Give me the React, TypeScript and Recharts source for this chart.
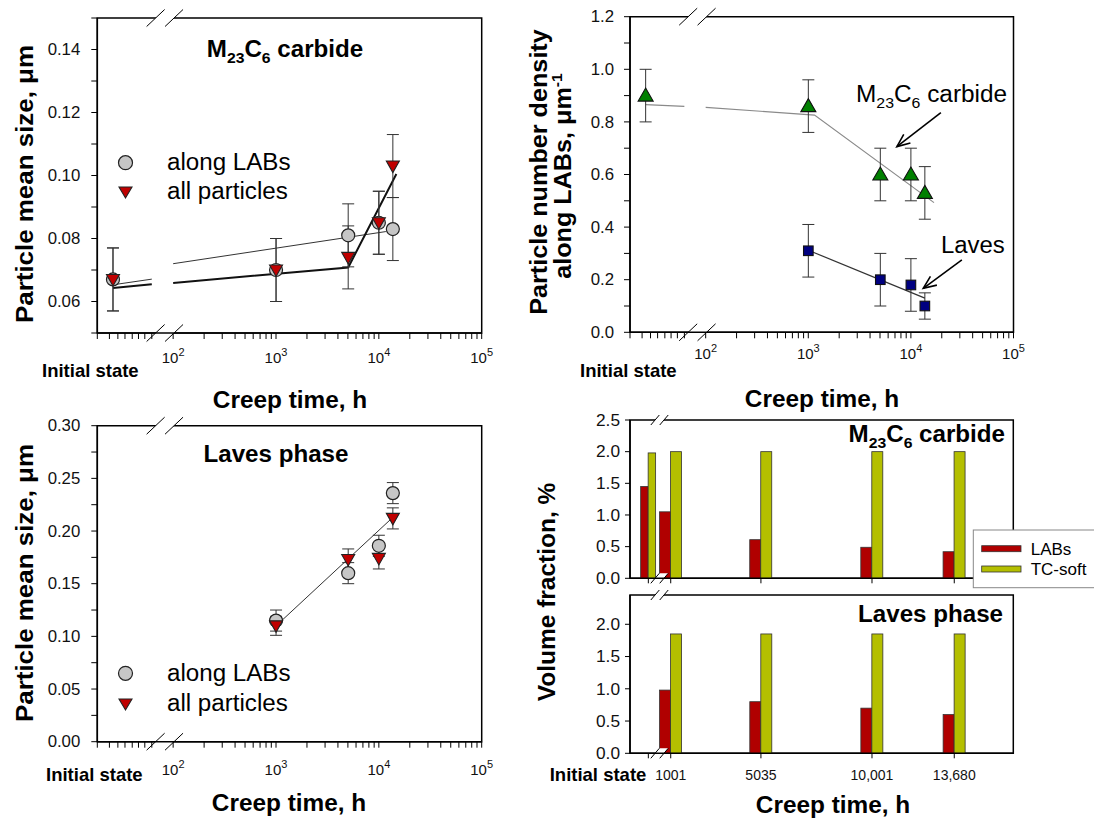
import React from "react";
import {
  ComposedChart, BarChart, Bar, Scatter, Line, XAxis, YAxis, ErrorBar,
  ReferenceArea, ReferenceLine,
} from "recharts";

const FONT = '"Liberation Sans", Arial, Helvetica, sans-serif';

// ---------- data ----------
// "Initial state" sits left of the axis break on the log time axis
const INIT_T = 26;
const BREAK_T = 83;

const sizeTimes = [INIT_T, 1001, 5035, 10001, 13680];
const m23SizeLabs = [0.067, 0.070, 0.081, 0.085, 0.083];
const m23SizeAll = [0.067, 0.070, 0.074, 0.085, 0.103];
const m23SizeErr = [0.010, 0.010, 0.010, 0.010, 0.010];

// fitted lines (null = gap at the axis break)
const m23FitLabsT = [26, 62, BREAK_T, 100, 11700];
const m23FitLabsV = [0.0653, 0.0671, null, 0.0720, 0.0822];
const m23FitAllT = [26, 62, BREAK_T, 100, 5035, 14800];
const m23FitAllV = [0.0643, 0.0655, null, 0.0659, 0.0708, 0.1005];

const lavesTimes = [1001, 5035, 10001, 13680];
const lavesSizeLabs = [0.115, 0.160, 0.186, 0.236];
const lavesSizeAll = [0.110, 0.173, 0.174, 0.212];
const lavesSizeLabsErr = [0.010, 0.010, 0.010, 0.010];
const lavesSizeAllErr = [0.009, 0.010, 0.010, 0.010];
const lavesFitT = [1001, 13680];
const lavesFitV = [0.110, 0.213];

const m23Density = [0.90, 0.86, 0.60, 0.60, 0.53];
const m23DensityErr = [0.10, 0.10, 0.10, 0.10, 0.10];
const lavesDensity = [0.31, 0.20, 0.18, 0.10];
const lavesDensityErr = [0.10, 0.10, 0.10, 0.05];
const m23DensFitT = [26, 62, BREAK_T, 100, 1150, 16800];
const m23DensFitV = [0.866, 0.859, null, 0.855, 0.826, 0.493];
const lavesDensFitT = [1001, 13680];
const lavesDensFitV = [0.312, 0.130];

// annotation arrows (data coords: tail -> head)
const m23Arrow = [{ x: 19600, y: 0.835 }, { x: 7300, y: 0.706 }];
const lavesArrow = [{ x: 31400, y: 0.275 }, { x: 13200, y: 0.167 }];

// volume fraction bars
const vfTimes = [0, 1001, 5035, 10001, 13680];
const vfTickLabels = ["Initial state", "1001", "5035", "10,001", "13,680"];
const m23VfLabs = [1.45, 1.05, 0.61, 0.49, 0.42];
const m23VfTc = [1.98, 2.0, 2.0, 2.0, 2.0];
const lavesVfTimes = [1001, 5035, 10001, 13680];
const lavesVfLabs = [0.98, 0.80, 0.70, 0.60];
const lavesVfTc = [1.85, 1.85, 1.85, 1.85];

// ---------- helpers ----------
const pts = (ts: number[], vs: (number | null)[], es?: number[]) =>
  ts.map((x, i) => ({ x, y: vs[i], err: es ? es[i] : 0 }));

const LOG_MIN = 18.3;
const LEFT_TICKS = [LOG_MIN, 24, 29, 34, 40, 46, 53, 62];
const LOG_TICKS: number[] = [...LEFT_TICKS];
for (let d = 100; d <= 10000; d *= 10) for (let m = 1; m <= 9; m++) LOG_TICKS.push(d * m);
LOG_TICKS.push(100000);
const DECADES = [100, 1000, 10000, 100000];

const RED = "#b00000";
const LIME = "#b4bf00";

const makeLogTick = (dy: number) => (p: any) => {
  const v = p.payload.value;
  if (!DECADES.includes(v)) return <g />;
  return (
    <text x={p.x} y={p.y + dy} textAnchor="middle" fontSize={15} fontFamily={FONT} fill="#111">
      10<tspan dy={-7} fontSize={11}>{Math.round(Math.log10(v))}</tspan>
    </text>
  );
};

const makeYTick = (isLabeled: (v: number) => boolean, digits: number, size = 16, sx = 1.05) => (p: any) => {
  const v = p.payload.value;
  if (!isLabeled(v)) return <g />;
  return (
    <text transform={`translate(${p.x},${p.y}) scale(${sx},1)`} textAnchor="end" dy="0.36em"
      fontSize={size} fontFamily={FONT} fill="#111">{v.toFixed(digits)}</text>
  );
};

const makeBreak = (w: number, h: number, gap: number) => (p: any) => {
  const x = p.x1;
  const yA = Math.min(p.y1, p.y2);
  const yB = Math.max(p.y1, p.y2);
  const mark = (y: number, k: string) => {
    const l = x - gap / 2, r = x + gap / 2;
    return (
      <g key={k}>
        <polygon points={`${l - w / 2},${y + h / 2} ${l + w / 2},${y - h / 2} ${r + w / 2},${y - h / 2} ${r - w / 2},${y + h / 2}`} fill="#fff" />
        <line x1={l - w / 2} y1={y + h / 2} x2={l + w / 2} y2={y - h / 2} stroke="#000" strokeWidth={1} />
        <line x1={r - w / 2} y1={y + h / 2} x2={r + w / 2} y2={y - h / 2} stroke="#000" strokeWidth={1} />
      </g>
    );
  };
  return <g>{mark(yA, "a")}{mark(yB, "b")}</g>;
};
const bigBreak = makeBreak(18, 17, 18.4);
const smallBreak = makeBreak(8.5, 10, 8.9);

const arrowShape = (p: any) => {
  const { x1, y1, x2, y2 } = p;
  const a = Math.atan2(y2 - y1, x2 - x1);
  const L = 14, s = 0.4;
  const h1 = `${x2 - L * Math.cos(a - s)},${y2 - L * Math.sin(a - s)}`;
  const h2 = `${x2 - L * Math.cos(a + s)},${y2 - L * Math.sin(a + s)}`;
  return (
    <g>
      <line x1={x1} y1={y1} x2={x2} y2={y2} stroke="#000" strokeWidth={1.6} />
      <polyline points={`${h1} ${x2},${y2} ${h2}`} fill="none" stroke="#000" strokeWidth={1.6} />
    </g>
  );
};

const CircleDot = (p: any) => <circle cx={p.cx} cy={p.cy} r={6.5} fill="#c6c6c6" stroke="#222" strokeWidth={1.2} />;
const TriDown = (p: any) => (
  <polygon points={`${p.cx - 6.5},${p.cy - 5} ${p.cx + 6.5},${p.cy - 5} ${p.cx},${p.cy + 6.5}`} fill="#c00000" stroke="#222" strokeWidth={1.1} />
);
const TriUp = (p: any) => (
  <polygon points={`${p.cx - 7.5},${p.cy + 5.5} ${p.cx + 7.5},${p.cy + 5.5} ${p.cx},${p.cy - 7.5}`} fill="#008000" stroke="#111" strokeWidth={1.1} />
);
const Square = (p: any) => <rect x={p.cx - 4.8} y={p.cy - 4.8} width={9.6} height={9.6} fill="#000080" stroke="#111" strokeWidth={1.1} />;

const barShape = (fill: string, side: "left" | "right") => (p: any) => {
  let { x, width } = p;
  const { y, height, payload } = p;
  if (!height || height <= 0 || isNaN(height)) return <g />;
  if (payload && payload.t === 0) {
    const w = width * 0.68;
    if (side === "left") x = x + width - w;
    width = w;
  }
  return <rect x={x} y={y} width={width} height={height} fill={fill} stroke="#333" strokeWidth={0.8} />;
};

function T({ x, y, size, bold = false, anchor = "start", sx = 1, rot = 0, children }: any) {
  return (
    <text transform={`translate(${x},${y}) rotate(${rot}) scale(${sx},1)`} fontSize={size}
      fontWeight={bold ? 700 : 400} textAnchor={anchor} fontFamily={FONT} fill="#000">
      {children}
    </text>
  );
}

const M23 = ({ big, small }: { big: number; small: number }) => (
  <>
    M<tspan fontSize={small} dy={6}>23</tspan>
    <tspan fontSize={big} dy={-6}>C</tspan>
    <tspan fontSize={small} dy={6}>6</tspan>
    <tspan fontSize={big} dy={-6}>{"\u00a0carbide"}</tspan>
  </>
);

const logX = (dy: number) => (
  <XAxis type="number" dataKey="x" scale="log" domain={[LOG_MIN, 100000]} allowDataOverflow
    ticks={LOG_TICKS} interval={0} tick={makeLogTick(dy)} tickSize={6} tickMargin={2} height={50}
    stroke="#000" axisLine={{ stroke: "#000", strokeWidth: 1.5 }} tickLine={{ stroke: "#000" }} />
);

const fitLine = (data: any[], stroke: string, w: number, key: string) => (
  <Line key={key} data={data} dataKey="y" type="linear" stroke={stroke} strokeWidth={w} dot={false}
    activeDot={false} connectNulls={false} isAnimationActive={false} legendType="none" />
);

const errBar = <ErrorBar dataKey="err" direction="y" width={6} stroke="#333" strokeWidth={1} />;

export default function App() {
  const sizeTicks1 = [0.05, 0.06, 0.07, 0.08, 0.09, 0.10, 0.11, 0.12, 0.13, 0.14, 0.15];
  const sizeTicks3 = [0, 0.025, 0.05, 0.075, 0.1, 0.125, 0.15, 0.175, 0.2, 0.225, 0.25, 0.275, 0.3];
  const densTicks = [0, 0.1, 0.2, 0.3, 0.4, 0.5, 0.6, 0.7, 0.8, 0.9, 1.0, 1.1, 1.2];

  const m23Rows = vfTimes.map((t, i) => ({ t, labs: m23VfLabs[i], tc: m23VfTc[i] }));
  const lavesRows = lavesVfTimes.map((t, i) => ({ t, labs: lavesVfLabs[i], tc: lavesVfTc[i] }));

  const vfTick = (p: any) => {
    const v = p.payload.value;
    const idx = vfTimes.indexOf(v);
    if (idx === 0) {
      return <text x={p.x - 2} y={p.y + 20.5} textAnchor="end" fontSize={18.5} fontWeight={700} fontFamily={FONT} fill="#000">{vfTickLabels[0]}</text>;
    }
    return <text x={p.x} y={p.y + 20} textAnchor="middle" fontSize={14} fontFamily={FONT} fill="#111">{vfTickLabels[idx]}</text>;
  };

  return (
    <div style={{ position: "absolute", left: 0, top: 0, width: 1094, height: 818, background: "#fff", overflow: "hidden", fontFamily: FONT }}>
      {/* Panel 1: M23C6 size */}
      <div style={{ position: "absolute", left: 0, top: 0 }}>
        <ComposedChart width={500} height={400} margin={{ top: 18, right: 18.3, bottom: 17, left: 37.3 }}>
          {logX(22)}
          <YAxis type="number" dataKey="y" domain={[0.05, 0.15]} allowDataOverflow ticks={sizeTicks1} interval={0}
            width={60} tickSize={6} tickMargin={11} stroke="#000" axisLine={{ stroke: "#000", strokeWidth: 1.5 }}
            tickLine={{ stroke: "#000" }} tick={makeYTick((v) => Math.round(v * 100) % 2 === 0, 2)} />
          <ReferenceArea x1={LOG_MIN} x2={100000} y1={0.05} y2={0.15} fill="none" stroke="#000" strokeWidth={1.5} ifOverflow="visible" />
          {fitLine(pts(m23FitLabsT, m23FitLabsV), "#333", 1, "f1")}
          {fitLine(pts(m23FitAllT, m23FitAllV), "#111", 2, "f2")}
          <Scatter data={pts(sizeTimes, m23SizeLabs, m23SizeErr)} shape={CircleDot} isAnimationActive={false}>{errBar}</Scatter>
          <Scatter data={pts(sizeTimes, m23SizeAll, m23SizeErr)} shape={TriDown} isAnimationActive={false}>{errBar}</Scatter>
          <ReferenceLine x={BREAK_T} shape={bigBreak} ifOverflow="visible" />
        </ComposedChart>
      </div>

      {/* Panel 2: number density */}
      <div style={{ position: "absolute", left: 540, top: 0 }}>
        <ComposedChart width={554} height={400} margin={{ top: 16.7, right: 80.5, bottom: 17.7, left: 30 }}>
          {logX(19)}
          <YAxis type="number" dataKey="y" domain={[0, 1.2]} allowDataOverflow ticks={densTicks} interval={0}
            width={60} tickSize={6} tickMargin={10} stroke="#000" axisLine={{ stroke: "#000", strokeWidth: 1.5 }}
            tickLine={{ stroke: "#000" }} tick={makeYTick((v) => Math.round(v * 10) % 2 === 0, 1)} />
          <ReferenceArea x1={LOG_MIN} x2={100000} y1={0} y2={1.2} fill="none" stroke="#000" strokeWidth={1.5} ifOverflow="visible" />
          {fitLine(pts(m23DensFitT, m23DensFitV), "#8a8a8a", 1.2, "f3")}
          {fitLine(pts(lavesDensFitT, lavesDensFitV), "#333", 1.2, "f4")}
          <Scatter data={pts(sizeTimes, m23Density, m23DensityErr)} shape={TriUp} isAnimationActive={false}>{errBar}</Scatter>
          <Scatter data={pts(lavesTimes, lavesDensity, lavesDensityErr)} shape={Square} isAnimationActive={false}>{errBar}</Scatter>
          <ReferenceLine segment={m23Arrow} shape={arrowShape} ifOverflow="visible" />
          <ReferenceLine segment={lavesArrow} shape={arrowShape} ifOverflow="visible" />
          <ReferenceLine x={BREAK_T} shape={bigBreak} ifOverflow="visible" />
        </ComposedChart>
      </div>

      {/* Panel 3: Laves size */}
      <div style={{ position: "absolute", left: 0, top: 400 }}>
        <ComposedChart width={500} height={418} margin={{ top: 25.7, right: 18.3, bottom: 26.3, left: 37.3 }}>
          {logX(25)}
          <YAxis type="number" dataKey="y" domain={[0, 0.3]} allowDataOverflow ticks={sizeTicks3} interval={0}
            width={60} tickSize={6} tickMargin={11} stroke="#000" axisLine={{ stroke: "#000", strokeWidth: 1.5 }}
            tickLine={{ stroke: "#000" }} tick={makeYTick((v) => Math.round(v * 1000) % 50 === 0, 2)} />
          <ReferenceArea x1={LOG_MIN} x2={100000} y1={0} y2={0.3} fill="none" stroke="#000" strokeWidth={1.5} ifOverflow="visible" />
          {fitLine(pts(lavesFitT, lavesFitV), "#333", 1, "f5")}
          <Scatter data={pts(lavesTimes, lavesSizeLabs, lavesSizeLabsErr)} shape={CircleDot} isAnimationActive={false}>{errBar}</Scatter>
          <Scatter data={pts(lavesTimes, lavesSizeAll, lavesSizeAllErr)} shape={TriDown} isAnimationActive={false}>{errBar}</Scatter>
          <ReferenceLine x={BREAK_T} shape={bigBreak} ifOverflow="visible" />
        </ComposedChart>
      </div>

      {/* Panel 4a: volume fraction, M23C6 */}
      <div style={{ position: "absolute", left: 520, top: 400 }}>
        <BarChart width={574} height={200} data={m23Rows} barGap={0} margin={{ top: 20, right: 80.7, bottom: 6.7, left: 50 }}>
          <XAxis type="number" dataKey="t" domain={[-820, 16320]} allowDataOverflow ticks={vfTimes} interval={0}
            tick={() => <g />} tickSize={5} height={15} stroke="#000" axisLine={{ stroke: "#000", strokeWidth: 1.5 }} tickLine={{ stroke: "#000" }} />
          <YAxis type="number" domain={[0, 2.5]} allowDataOverflow ticks={[0, 0.5, 1, 1.5, 2, 2.5]} interval={0}
            width={60} tickSize={5} tickMargin={5} stroke="#000" axisLine={{ stroke: "#000", strokeWidth: 1.5 }}
            tickLine={{ stroke: "#000" }} tick={makeYTick(() => true, 1, 16, 1.08)} />
          <ReferenceArea x1={-820} x2={16320} y1={0} y2={2.5} fill="none" stroke="#000" strokeWidth={1.5} ifOverflow="visible" />
          <Bar dataKey="labs" barSize={11} fill={RED} shape={barShape(RED, "left")} isAnimationActive={false} />
          <Bar dataKey="tc" barSize={11} fill={LIME} shape={barShape(LIME, "right")} isAnimationActive={false} />
          <ReferenceLine x={500} shape={smallBreak} ifOverflow="visible" />
        </BarChart>
      </div>

      {/* Panel 4b: volume fraction, Laves */}
      <div style={{ position: "absolute", left: 520, top: 585 }}>
        <BarChart width={574} height={233} data={lavesRows} barGap={0} margin={{ top: 10, right: 80.7, bottom: 24.7, left: 50 }}>
          <XAxis type="number" dataKey="t" domain={[-820, 16320]} allowDataOverflow ticks={vfTimes} interval={0}
            tick={vfTick} tickSize={5} tickMargin={2} height={40} stroke="#000" axisLine={{ stroke: "#000", strokeWidth: 1.5 }} tickLine={{ stroke: "#000" }} />
          <YAxis type="number" domain={[0, 2.454]} allowDataOverflow ticks={[0, 0.5, 1, 1.5, 2]} interval={0}
            width={60} tickSize={5} tickMargin={5} stroke="#000" axisLine={{ stroke: "#000", strokeWidth: 1.5 }}
            tickLine={{ stroke: "#000" }} tick={makeYTick(() => true, 1, 16, 1.08)} />
          <ReferenceArea x1={-820} x2={16320} y1={0} y2={2.454} fill="none" stroke="#000" strokeWidth={1.5} ifOverflow="visible" />
          <Bar dataKey="labs" barSize={11} fill={RED} shape={barShape(RED, "left")} isAnimationActive={false} />
          <Bar dataKey="tc" barSize={11} fill={LIME} shape={barShape(LIME, "right")} isAnimationActive={false} />
          <ReferenceLine x={500} shape={smallBreak} ifOverflow="visible" />
        </BarChart>
      </div>

      {/* text, titles and legends */}
      <svg width={1094} height={818} style={{ position: "absolute", left: 0, top: 0, pointerEvents: "none" }}>
        {/* axis titles */}
        <T x={33} y={184} size={24} bold anchor="middle" rot={-90} sx={1.08}>Particle mean size, μm</T>
        <T x={33} y={583} size={24} bold anchor="middle" rot={-90} sx={1.08}>Particle mean size, μm</T>
        <T x={547} y={172} size={24} bold anchor="middle" rot={-90} sx={1.05}>Particle number density</T>
        <T x={571} y={176} size={24} bold anchor="middle" rot={-90} sx={1.05}>
          along LABs, μm<tspan fontSize={15} dy={-9}>-1</tspan>
        </T>
        <T x={555} y={592} size={24} bold anchor="middle" rot={-90} sx={1.02}>Volume fraction, %</T>

        <T x={290} y={408} size={23} bold anchor="middle" sx={1.06}>Creep time, h</T>
        <T x={822} y={407} size={23} bold anchor="middle" sx={1.06}>Creep time, h</T>
        <T x={289} y={811} size={23} bold anchor="middle" sx={1.06}>Creep time, h</T>
        <T x={833} y={813} size={23} bold anchor="middle" sx={1.06}>Creep time, h</T>

        <T x={42} y={377} size={18.5} bold>Initial state</T>
        <T x={580} y={377} size={18.5} bold>Initial state</T>
        <T x={46} y={781} size={18.5} bold>Initial state</T>

        {/* panel titles */}
        <T x={285} y={57} size={23} bold anchor="middle" sx={1.05}><M23 big={23} small={15} /></T>
        <T x={276} y={462} size={23} bold anchor="middle" sx={1.05}>Laves phase</T>
        <T x={1005} y={442} size={23} bold anchor="end" sx={1.05}><M23 big={23} small={15} /></T>
        <T x={1003} y={622} size={23} bold anchor="end" sx={1.05}>Laves phase</T>

        {/* panel 2 annotations */}
        <T x={856} y={102} size={23} sx={1.06}><M23 big={23} small={15} /></T>
        <T x={941} y={253} size={23} sx={1.04}>Laves</T>

        {/* legend panel 1 */}
        <circle cx={125.5} cy={162.7} r={7} fill="#c6c6c6" stroke="#222" strokeWidth={1.2} />
        <polygon points="119,187 132,187 125.5,198" fill="#c00000" stroke="#222" strokeWidth={1.1} />
        <T x={167} y={170} size={23} sx={1.05}>along LABs</T>
        <T x={167} y={199} size={23} sx={1.05}>all particles</T>

        {/* legend panel 3 */}
        <circle cx={125.5} cy={673.3} r={7} fill="#c6c6c6" stroke="#222" strokeWidth={1.2} />
        <polygon points="119,699 132,699 125.5,710" fill="#c00000" stroke="#222" strokeWidth={1.1} />
        <T x={167} y={681} size={23} sx={1.05}>along LABs</T>
        <T x={167} y={711} size={23} sx={1.05}>all particles</T>

        {/* legend panel 4 */}
        <rect x={973.3} y={530} width={130} height={57.7} fill="#fff" stroke="#888" strokeWidth={1} />
        <rect x={981.7} y={545.7} width={39.3} height={6} fill={RED} stroke="#333" strokeWidth={0.8} />
        <rect x={981.7} y={566} width={39.3} height={6} fill={LIME} stroke="#333" strokeWidth={0.8} />
        <T x={1030.7} y={554.5} size={17}>LABs</T>
        <T x={1030.7} y={575} size={17}>TC-soft</T>
      </svg>
    </div>
  );
}
